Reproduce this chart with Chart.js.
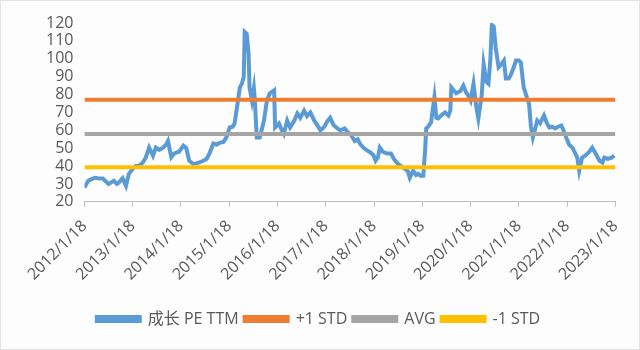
<!DOCTYPE html>
<html lang="zh">
<head>
<meta charset="UTF-8">
<title>成长 PE TTM</title>
<script src="https://cdn.jsdelivr.net/npm/chart.js"></script>
<style>
  html, body { margin: 0; padding: 0; background: #ffffff; }
  #wrap { width: 640px; height: 350px; box-sizing: border-box; border: 1px solid #e2e4e6; background: #fdfdfe; }
</style>
</head>
<body>
<div id="wrap"><canvas id="peChart"></canvas></div>
<script>
// years after 2012/1/18
const peTime = [
  0.00, 0.02, 0.08, 0.17, 0.23, 0.31, 0.38, 0.44, 0.50, 0.61, 0.67, 0.71, 0.79, 0.86, 0.92,
  1.00, 1.06, 1.13, 1.21, 1.27, 1.34, 1.42, 1.48, 1.55, 1.63, 1.69, 1.73, 1.80, 1.86, 1.90, 1.96,
  2.05, 2.11, 2.17, 2.25, 2.32, 2.38, 2.46, 2.53, 2.59, 2.67, 2.74, 2.80, 2.88, 2.94,
  3.01, 3.07, 3.11, 3.15, 3.19, 3.22, 3.26, 3.30, 3.32, 3.36, 3.40, 3.42, 3.47, 3.51, 3.53, 3.57,
  3.63, 3.67, 3.72, 3.78, 3.84, 3.93, 3.95,
  4.03, 4.09, 4.13, 4.20, 4.26, 4.34, 4.41, 4.47, 4.55, 4.61, 4.68, 4.76, 4.82, 4.89, 4.97,
  5.03, 5.09, 5.16, 5.24, 5.30, 5.39, 5.45, 5.51, 5.60, 5.66, 5.72, 5.80, 5.87, 5.93, 5.99,
  6.03, 6.08, 6.12, 6.18, 6.22, 6.28, 6.35, 6.41, 6.49, 6.56, 6.64, 6.70, 6.74, 6.81, 6.87, 6.91, 6.97,
  7.02, 7.06, 7.08, 7.12, 7.18, 7.25, 7.29, 7.33, 7.39, 7.47, 7.54, 7.58, 7.60, 7.66, 7.70, 7.79, 7.85, 7.91, 7.95,
  8.00, 8.06, 8.12, 8.16, 8.23, 8.27, 8.33, 8.37, 8.41, 8.44, 8.48, 8.52, 8.58, 8.62, 8.69, 8.73, 8.79, 8.83, 8.89, 8.94,
  9.00, 9.04, 9.10, 9.17, 9.21, 9.25, 9.29, 9.33, 9.38, 9.44, 9.52, 9.58, 9.63, 9.69, 9.75, 9.81, 9.88, 9.94, 9.98,
  10.04, 10.11, 10.17, 10.21, 10.25, 10.31, 10.38, 10.46, 10.52, 10.59, 10.67, 10.73, 10.77, 10.84, 10.92, 10.98
];
const peValues = [
  28, 29, 31.8, 33, 33.5, 33, 33, 31.5, 30, 31.8, 30, 30.7, 33.2, 29, 35.7,
  38.5, 40, 40, 42, 44.7, 50.3, 45.8, 50.3, 49, 50.3, 52, 54, 45, 47, 47.5, 48,
  51.4, 50, 43, 41.3, 41.5, 42, 43, 44, 47, 52.6, 52, 53, 53.5, 56,
  61.6, 62, 63.8, 71, 78.4, 84, 86, 89.7, 115, 114, 103, 84, 76.7, 83.5, 76.7, 56,
  56, 60, 65.5, 76.7, 80.7, 82.4, 61.6,
  63.8, 60, 58, 65.5, 61.6, 65, 69.4, 67, 71, 68, 70, 65.5, 63, 60, 62,
  65, 67, 63, 61, 60, 61, 59, 58, 54, 55, 52, 49.8, 48.5, 47.5, 46,
  43, 45, 50.3, 48, 47.5, 47, 47, 44, 41.3, 40, 38.5, 37, 33.5, 37.4, 35, 35.7, 34.5,
  34.6, 50, 61, 62, 64.4, 78.4, 67, 66.6, 68.3, 70, 68.3, 71, 84, 82, 80.7, 82, 85, 81, 79.6,
  76.7, 86, 72.8, 66.6, 79.6, 97, 87, 86, 100, 119, 118, 106, 95.3, 96.4, 99, 89, 89, 90.8, 95, 99,
  99, 98, 84, 78, 75, 62, 56, 60, 65.5, 64, 68.3, 64, 61.6, 62, 61, 62, 62.7, 59, 56,
  52, 50.3, 47, 44.7, 37.4, 44.7, 46, 48, 50.3, 47, 43, 42, 44.7, 44, 44.7, 45.8
];
const plusStd = 77.1;
const avgLevel = 58.0;
const minusStd = 39.3;
const yearLabels = ['2012/1/18', '2013/1/18', '2014/1/18', '2015/1/18', '2016/1/18', '2017/1/18',
  '2018/1/18', '2019/1/18', '2020/1/18', '2021/1/18', '2022/1/18', '2023/1/18'];

const peSeries = peTime.map((t, i) => ({ x: t, y: peValues[i] }));
const spanEnd = yearLabels.length - 1;
function flat(v) { return [{ x: 0, y: v }, { x: spanEnd, y: v }]; }

const textColor = '#595959';
const fontFamily = '"Open Sans", "Noto Sans CJK SC", sans-serif';

new Chart(document.getElementById('peChart'), {
  type: 'line',
  data: {
    datasets: [
      { label: '成长 PE TTM', data: peSeries, borderColor: '#5b9bd5', backgroundColor: '#5b9bd5', borderWidth: 4, pointRadius: 0, tension: 0, order: 4 },
      { label: '+1 STD', data: flat(plusStd), borderColor: '#ed7d31', backgroundColor: '#ed7d31', borderWidth: 4, pointRadius: 0, order: 3 },
      { label: 'AVG', data: flat(avgLevel), borderColor: '#a5a5a5', backgroundColor: '#a5a5a5', borderWidth: 4, pointRadius: 0, order: 2 },
      { label: '-1 STD', data: flat(minusStd), borderColor: '#ffc000', backgroundColor: '#ffc000', borderWidth: 4, pointRadius: 0, order: 1 }
    ]
  },
  options: {
    responsive: true,
    maintainAspectRatio: false,
    animation: false,
    layout: { padding: { left: 20, right: 23, top: 22, bottom: 12 } },
    scales: {
      x: {
        type: 'linear',
        min: 0,
        max: spanEnd,
        afterBuildTicks: axis => { axis.ticks = yearLabels.map((_, i) => ({ value: i })); },
        afterFit: axis => { axis.height += 11; },
        grid: { display: true, drawOnChartArea: false, drawTicks: true, tickLength: 5, color: '#bfbfbf' },
        border: { color: '#bfbfbf' },
        ticks: {
          minRotation: 45, maxRotation: 45, autoSkip: false, padding: 10,
          color: textColor, font: { family: fontFamily, size: 16 },
          callback: v => yearLabels[v]
        }
      },
      y: {
        min: 20,
        max: 120,
        afterFit: axis => { axis.width += 22; },
        ticks: { stepSize: 10, autoSkip: false, color: textColor, padding: 3, font: { family: fontFamily, size: 16 } },
        grid: { display: false },
        border: { display: false }
      }
    },
    plugins: {
      tooltip: { enabled: false },
      legend: {
        position: 'bottom',
        labels: {
          boxWidth: 43, boxHeight: 4, padding: 6,
          color: textColor, font: { family: fontFamily, size: 16 },
          sort: (a, b) => a.datasetIndex - b.datasetIndex
        }
      }
    }
  }
});
</script>
</body>
</html>
